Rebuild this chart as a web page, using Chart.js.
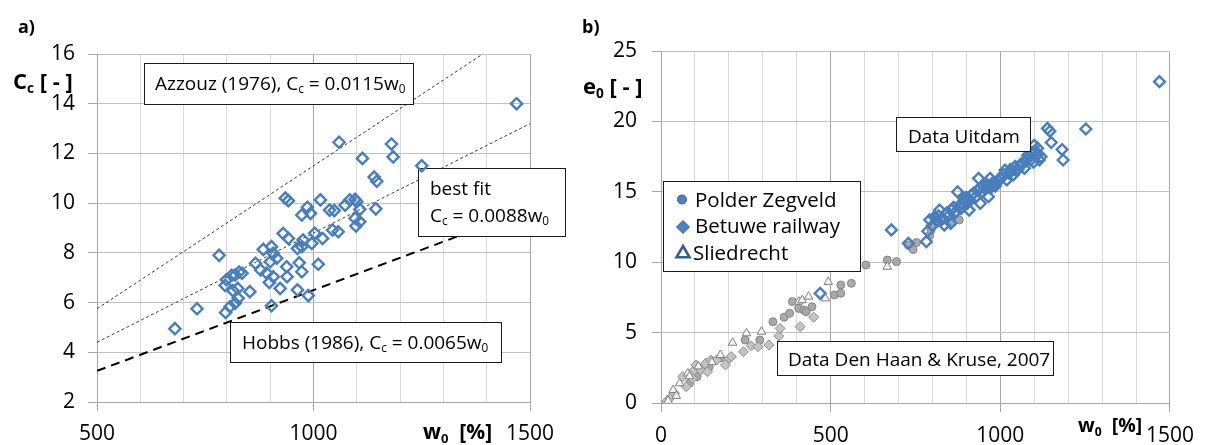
<!DOCTYPE html>
<html>
<head>
<meta charset="utf-8">
<script src="https://cdn.jsdelivr.net/npm/chart.js@4/dist/chart.umd.min.js"></script>
<style>
  html, body { margin: 0; padding: 0; background: #fff; width: 1205px; height: 445px; overflow: hidden; }
  .panel { position: absolute; top: 0; height: 445px; }
  #panelA { left: 0; width: 580px; }
  #panelB { left: 580px; width: 625px; }
</style>
</head>
<body>
<div class="panel" id="panelA"><canvas id="chartA" width="580" height="445"></canvas></div>
<div class="panel" id="panelB"><canvas id="chartB" width="625" height="445"></canvas></div>
<script>
// ---------- panel a: compression index Cc against natural water content w0 ----------
const peatW = [680, 731, 782, 797, 796, 799, 807, 811, 819, 814,
               825, 826, 828, 835, 819, 853, 866, 878, 884, 892,
               898, 900, 903, 903, 907, 907, 915, 923, 930, 935,
               942, 942, 938, 939, 963, 963, 967, 973, 973, 973,
               976, 986, 988, 993, 996, 1003, 1011, 1016, 1021, 1037,
               1048, 1044, 1057, 1059, 1073, 1084, 1096, 1100, 1107, 1096,
               1107, 1098, 1113, 1140, 1146, 1144, 1180, 1184, 1250, 1469];
const peatCc = [4.95, 5.75, 7.90, 5.60, 6.69, 6.92, 5.83, 7.10, 5.97, 6.48,
                6.57, 6.17, 7.23, 7.18, 7.11, 6.44, 7.58, 7.31, 8.14, 7.18,
                6.81, 7.64, 8.25, 5.87, 7.98, 7.04, 7.78, 6.57, 8.78, 10.20,
                10.10, 8.58, 7.44, 7.04, 6.51, 8.18, 7.60, 9.52, 8.25, 7.24,
                8.52, 9.83, 6.28, 9.59, 8.38, 8.79, 7.54, 10.13, 8.58, 9.72,
                9.70, 8.92, 8.85, 12.45, 9.92, 10.13, 10.15, 10.06, 9.75, 9.39,
                9.25, 9.08, 11.80, 11.05, 10.88, 9.77, 12.38, 11.86, 11.50, 14.00];

// correlation lines Cc = k * w0, given by their end points
const azzouzLine  = [[500, 5.75], [1391, 16.0]];   // k = 0.0115
const bestFitLine = [[500, 4.40], [1500, 13.20]];  // k = 0.0088
const hobbsLine   = [[500, 3.25], [1500, 9.75]];   // k = 0.0065

const ticksAX = [500, 1000, 1500];
const ticksAY = [2, 4, 6, 8, 10, 12, 14, 16];

// ---------- panel b: initial void ratio e0 against w0 ----------
const polderW = [84, 106, 142, 175, 248, 291, 330, 363, 379, 387,
                 406, 421, 428, 445, 511, 530, 530, 561, 604, 667,
                 694, 729, 743, 753, 792, 796, 858, 879];
const polderE = [1.40, 1.87, 2.58, 3.20, 4.47, 4.47, 5.77, 6.09, 6.37, 7.20,
                 6.72, 6.60, 6.48, 6.84, 7.67, 7.79, 8.38, 8.50, 9.80, 10.15,
                 10.04, 11.20, 10.90, 11.40, 11.90, 12.30, 12.80, 13.00];

const betuweW = [16, 26, 40, 64, 74, 93, 98, 103, 118, 132, 137, 147,
                 164, 190, 202, 207, 243, 266, 286, 318, 347, 351, 410, 450];
const betuweE = [0.10, 0.33, 0.69, 1.87, 1.16, 1.75, 2.34, 2.70, 2.34, 2.82, 2.22, 3.05,
                 3.05, 2.70, 3.17, 3.30, 3.64, 4.05, 4.00, 4.12, 4.76, 5.30, 5.42, 6.09];

const sliedrechtW = [21, 36, 45, 55, 79, 84, 110, 150, 175, 211, 252, 296, 406, 416, 435, 484, 493, 667];
const sliedrechtE = [0.15, 0.92, 0.50, 1.40, 2.10, 1.90, 2.60, 2.90, 3.41, 4.28, 4.95, 5.06, 7.20, 7.30, 7.55, 7.43, 8.60, 9.68];

const uitdamW = [469, 679, 729, 782, 786, 792, 800, 806, 812, 818,
                 821, 826, 830, 835, 842, 848, 854, 856, 862, 864,
                 870, 874, 878, 884, 888, 893, 896, 900, 903, 908,
                 910, 916, 922, 926, 932, 936, 941, 941, 946, 950,
                 956, 960, 962, 965, 968, 970, 975, 980, 985, 989,
                 994, 999, 1004, 1008, 1014, 1019, 1026, 1030, 1038, 1044,
                 1047, 1052, 1057, 1062, 1071, 1076, 1081, 1086, 1090, 1094,
                 1098, 1100, 1105, 1108, 1110, 1115, 1120, 1139, 1146, 1150,
                 1182, 1185, 1252, 1469];
const uitdamE = [7.79, 12.29, 11.34, 11.46, 12.20, 13.00, 12.60, 13.20, 12.90, 13.30,
                 13.70, 13.00, 13.10, 12.64, 13.50, 13.30, 12.76, 13.70, 13.90, 13.47,
                 13.60, 15.00, 14.00, 13.80, 14.18, 14.50, 14.30, 14.60, 14.18, 13.70,
                 14.40, 14.80, 14.90, 14.60, 15.10, 15.95, 15.25, 14.18, 15.00, 15.40,
                 15.20, 15.36, 15.50, 14.65, 15.30, 15.95, 15.36, 15.70, 15.40, 15.60,
                 15.80, 15.95, 16.00, 16.20, 16.55, 15.84, 16.30, 16.60, 16.20, 16.80,
                 16.50, 16.60, 16.80, 17.00, 16.67, 17.20, 17.60, 17.50, 17.26, 17.80,
                 17.10, 18.30, 17.85, 17.60, 18.10, 17.26, 17.50, 19.50, 19.30, 18.50,
                 18.00, 17.26, 19.46, 22.82];

const ticksBX = [0, 500, 1000, 1500];
const ticksBY = [0, 5, 10, 15, 20, 25];

// ---------- helpers ----------
const FONT = '"Open Sans", "Liberation Sans", sans-serif';
const toXY = (xs, ys) => xs.map((x, i) => ({ x: x, y: ys[i] }));
const pairsToXY = pairs => pairs.map(p => ({ x: p[0], y: p[1] }));

// draws text made of normal and subscript runs, starting at x on baseline y
function drawRich(ctx, parts, x, y, size, weight) {
  ctx.save();
  ctx.fillStyle = '#000';
  ctx.textBaseline = 'alphabetic';
  ctx.textAlign = 'left';
  let cx = x;
  parts.forEach(p => {
    const s = p.sub ? size * 0.62 : size;
    ctx.font = (weight || 'normal') + ' ' + s + 'px ' + FONT;
    ctx.fillText(p.t, cx, p.sub ? y + size * 0.2 : y);
    cx += ctx.measureText(p.t).width;
  });
  ctx.restore();
}

function drawBox(ctx, x, y, w, h) {
  ctx.save();
  ctx.fillStyle = '#fff';
  ctx.fillRect(x, y, w, h);
  ctx.strokeStyle = '#1a1a1a';
  ctx.lineWidth = 1;
  ctx.strokeRect(x + 0.5, y + 0.5, w, h);
  ctx.restore();
}

function gridColorX(ctx) {
  return ctx.tick && ctx.tick.value % 500 === 0 ? '#a6a6a6' : '#d9d9d9';
}
function tickColorX(ctx) {
  return ctx.tick && ctx.tick.value % 500 === 0 ? '#a6a6a6' : 'rgba(0,0,0,0)';
}

function axisScales(xMin, xMax, yMin, yMax, yStep, xLabels, yLabels, yWidth, xHeight, yPad, xPad) {
  return {
    x: {
      type: 'linear', min: xMin, max: xMax,
      ticks: {
        stepSize: 100, autoSkip: false, maxRotation: 0, padding: xPad,
        color: '#000', font: { family: FONT, size: 21 },
        callback: v => (xLabels.includes(v) ? String(v) : '')
      },
      grid: { color: gridColorX, tickColor: tickColorX, tickLength: 9, lineWidth: 1 },
      border: { color: '#a6a6a6' },
      afterFit: s => { s.height = xHeight; }
    },
    y: {
      type: 'linear', min: yMin, max: yMax,
      ticks: {
        stepSize: yStep, padding: yPad, color: '#000', font: { family: FONT, size: 21 },
        callback: v => (yLabels.includes(v) ? String(v) : '')
      },
      grid: { color: '#c0c0c0', tickColor: '#a6a6a6', tickLength: 9, lineWidth: 1 },
      border: { color: '#a6a6a6' },
      afterFit: s => { s.width = yWidth; }
    }
  };
}

// ---------- panel a ----------
const annotationsA = {
  id: 'annotationsA',
  afterDatasetDraw(chart, args) {
    if (args.index !== 1) return;          // boxes sit above the lines, below the markers
    const ctx = chart.ctx;
    drawBox(ctx, 144, 63, 269, 41);
    drawRich(ctx, [{ t: 'Azzouz (1976), C' }, { t: 'c', sub: true }, { t: ' = 0.0115w' }, { t: '0', sub: true }], 155, 89.5, 19);
    drawBox(ctx, 418, 168, 147, 68);
    drawRich(ctx, [{ t: 'best fit' }], 430, 195, 19);
    drawRich(ctx, [{ t: 'C' }, { t: 'c', sub: true }, { t: ' = 0.0088w' }, { t: '0', sub: true }], 430, 221.5, 19);
    drawBox(ctx, 230, 322, 271, 40);
    drawRich(ctx, [{ t: 'Hobbs (1986), C' }, { t: 'c', sub: true }, { t: ' = 0.0065w' }, { t: '0', sub: true }], 242, 348.5, 19);
  },
  afterDraw(chart) {
    const ctx = chart.ctx;
    drawRich(ctx, [{ t: 'a)' }], 18, 33, 18, 'bold');
    drawRich(ctx, [{ t: 'C' }, { t: 'c', sub: true }, { t: ' [ - ]' }], 13, 89, 22, 'bold');
    drawRich(ctx, [{ t: 'w' }, { t: '0', sub: true }, { t: '  [%]' }], 423, 439, 21, 'bold');
  }
};

new Chart(document.getElementById('chartA'), {
  type: 'scatter',
  data: {
    datasets: [
      { label: 'Cc', data: toXY(peatW, peatCc), pointStyle: 'rectRot', pointRadius: 5.6,
        borderColor: '#4a7ebb', backgroundColor: 'rgba(0,0,0,0)', pointBorderWidth: 2.4, showLine: false },
      { label: 'Azzouz (1976)', data: pairsToXY(azzouzLine), showLine: true, pointRadius: 0,
        borderColor: '#3a3a3a', borderWidth: 1, borderDash: [3, 2.5] },
      { label: 'best fit', data: pairsToXY(bestFitLine), showLine: true, pointRadius: 0,
        borderColor: '#3a3a3a', borderWidth: 1, borderDash: [3, 2.5] },
      { label: 'Hobbs (1986)', data: pairsToXY(hobbsLine), showLine: true, pointRadius: 0,
        borderColor: '#000', borderWidth: 2, borderDash: [9, 6] }
    ]
  },
  options: {
    responsive: false, animation: false, events: [],
    layout: { padding: { left: 0, top: 54, right: 50, bottom: 0 } },
    plugins: { legend: { display: false }, tooltip: { enabled: false } },
    scales: axisScales(500, 1500, 2, 16, 2, ticksAX, ticksAY, 97, 43, 13, 10)
  },
  plugins: [annotationsA]
});

// ---------- panel b ----------
const annotationsB = {
  id: 'annotationsB',
  afterDatasetsDraw(chart) {
    const ctx = chart.ctx;
    drawBox(ctx, 316, 117, 134, 34);
    drawRich(ctx, [{ t: 'Data Uitdam' }], 328, 142.5, 19);
    drawBox(ctx, 197, 341, 276, 34);
    drawRich(ctx, [{ t: 'Data Den Haan & Kruse, 2007' }], 208, 365.5, 19);

    // legend
    drawBox(ctx, 83, 181, 197, 90);
    ctx.save();
    ctx.fillStyle = '#4f81bd'; ctx.strokeStyle = '#385d8a'; ctx.lineWidth = 1;
    Chart.helpers.drawPoint(ctx, { pointStyle: 'circle', radius: 4.5, rotation: 0, borderWidth: 1 }, 102, 199.5);
    Chart.helpers.drawPoint(ctx, { pointStyle: 'rectRot', radius: 6.5, rotation: 0, borderWidth: 1 }, 103, 227);
    ctx.fillStyle = '#fff'; ctx.lineWidth = 2.6;
    Chart.helpers.drawPoint(ctx, { pointStyle: 'triangle', radius: 7.5, rotation: 0, borderWidth: 2.6 }, 103, 253.5);
    ctx.restore();
    drawRich(ctx, [{ t: 'Polder Zegveld' }], 115, 206.5, 20.5);
    drawRich(ctx, [{ t: 'Betuwe railway' }], 115, 233.3, 20.5);
    drawRich(ctx, [{ t: 'Sliedrecht' }], 113, 259.5, 20.5);
  },
  afterDraw(chart) {
    const ctx = chart.ctx;
    drawRich(ctx, [{ t: 'b)' }], 2, 33, 18, 'bold');
    drawRich(ctx, [{ t: 'e' }, { t: '0', sub: true }, { t: ' [ - ]' }], 3, 94, 22, 'bold');
    drawRich(ctx, [{ t: 'w' }, { t: '0', sub: true }, { t: '  [%]' }], 498, 432, 19.5, 'bold');
  }
};

new Chart(document.getElementById('chartB'), {
  type: 'scatter',
  data: {
    datasets: [
      { label: 'Uitdam', data: toXY(uitdamW, uitdamE), pointStyle: 'rectRot', pointRadius: 5.4,
        borderColor: '#4a7ebb', backgroundColor: 'rgba(0,0,0,0)', pointBorderWidth: 2.4 },
      { label: 'Sliedrecht', data: toXY(sliedrechtW, sliedrechtE), pointStyle: 'triangle', pointRadius: 5,
        borderColor: '#7f7f7f', backgroundColor: '#f4f4f4', pointBorderWidth: 1 },
      { label: 'Betuwe railway', data: toXY(betuweW, betuweE), pointStyle: 'rectRot', pointRadius: 5,
        borderColor: '#8c8c8c', backgroundColor: '#c4c4c4', pointBorderWidth: 1 },
      { label: 'Polder Zegveld', data: toXY(polderW, polderE), pointStyle: 'circle', pointRadius: 4,
        borderColor: '#858585', backgroundColor: '#a9a9a9', pointBorderWidth: 1 }
    ]
  },
  options: {
    responsive: false, animation: false, events: [],
    layout: { padding: { left: 0, top: 51, right: 25, bottom: 0 } },
    plugins: { legend: { display: false }, tooltip: { enabled: false } },
    scales: axisScales(0, 1500, 0, 25, 5, ticksBX, ticksBY, 81, 42, 15, 11)
  },
  plugins: [annotationsB]
});
</script>
</body>
</html>
